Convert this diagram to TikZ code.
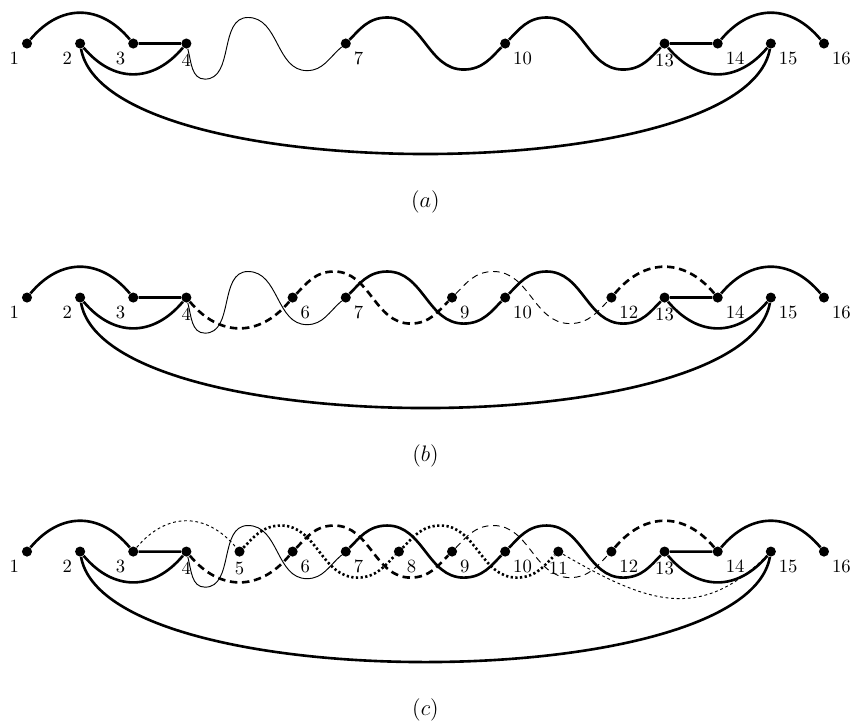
\documentclass[tikz,border=0pt]{standalone}
\usepackage{amsmath}
\usepackage{tikz}

\begin{document}
\begin{tikzpicture}[
  dot/.style={circle, fill, inner sep=0pt, minimum size=5.4pt},
  every label/.style={font=\normalsize, inner sep=1pt},
  label distance=1.5pt,
  strand/.style={line width=1.4pt},
  fine/.style={line width=0.5pt},
  dstrand/.style={strand, dash pattern=on 4pt off 2.5pt},
  dfine/.style={fine, dash pattern=on 3.5pt off 2.5pt},
  pstrand/.style={strand, dash pattern=on 1.2pt off 1.3pt},
  pfine/.style={fine, dash pattern=on 1.5pt off 1.5pt},
  arcup/.style={out=50, in=130, looseness=1.2},
  arcdown/.style={out=-50, in=-130, looseness=1.2},
  wave/.style={to path={(\tikztostart) .. controls +(45:0.36) and +(180:0.36) .. ++(0.78,0.49)
      .. controls +(0:0.68) and +(180:0.68) .. ++(1.44,-0.98)
      .. controls +(0:0.36) and +(-135:0.36) .. (\tikztotarget)}}
  ]
  \useasboundingbox (0.492,0.819) rectangle (16.509,-12.808);

  % (a)
  \node[dot, label=below left:1]  (n1)  at (1,0) {};
  \node[dot, label=below left:2]  (n2)  at (2,0) {};
  \node[dot, label=below left:3]  (n3)  at (3,0) {};
  \node[dot, label=below:4]       (n4)  at (4,0) {};
  \node[dot, label=below right:7] (n7)  at (7,0) {};
  \node[dot, label=below right:10] (n10) at (10,0) {};
  \node[dot, label=below:13]      (n13) at (13,0) {};
  \node[dot, label=below right:14] (n14) at (14,0) {};
  \node[dot, label=below right:15] (n15) at (15,0) {};
  \node[dot, label=below right:16] (n16) at (16,0) {};
  \draw[strand] (n1) to[arcup] (n3) -- (n4);
  \draw[strand] (n2) to[arcdown] (n4);
  \draw[strand] (n2) to[out=-80, in=-100, looseness=0.53] (n15);
  \draw[fine] (n4) to[out=-75,in=180] ++(0.35,-0.67) to[out=0,in=180] ++(0.81,1.16)
    to[out=0,in=180] ++(1.11,-1.0) to[out=0,in=-140] (n7);
  \draw[strand] (n7) to[wave] (n10);
  \draw[strand] (n10) to[wave] (n13);
  \draw[strand] (n13) -- (n14) to[arcup] (n16);
  \draw[strand] (n13) to[arcdown] (n15);
  \node[font=\large] (capa) at (8.5,-2.983) {$(a)$};

  % (b)
  \begin{scope}[yshift=-4.781cm]
  \node[dot, label=below left:1]  (n1)  at (1,0) {};
  \node[dot, label=below left:2]  (n2)  at (2,0) {};
  \node[dot, label=below left:3]  (n3)  at (3,0) {};
  \node[dot, label=below:4]       (n4)  at (4,0) {};
  \node[dot, label=below right:6] (n6)  at (6,0) {};
  \node[dot, label=below right:7] (n7)  at (7,0) {};
  \node[dot, label=below right:9] (n9)  at (9,0) {};
  \node[dot, label=below right:10] (n10) at (10,0) {};
  \node[dot, label=below right:12] (n12) at (12,0) {};
  \node[dot, label=below:13]      (n13) at (13,0) {};
  \node[dot, label=below right:14] (n14) at (14,0) {};
  \node[dot, label=below right:15] (n15) at (15,0) {};
  \node[dot, label=below right:16] (n16) at (16,0) {};
  \draw[strand] (n1) to[arcup] (n3) -- (n4);
  \draw[strand] (n2) to[arcdown] (n4);
  \draw[strand] (n2) to[out=-80, in=-100, looseness=0.53] (n15);
  \draw[fine] (n4) to[out=-75,in=180] ++(0.35,-0.67) to[out=0,in=180] ++(0.81,1.16)
    to[out=0,in=180] ++(1.11,-1.0) to[out=0,in=-140] (n7);
  \draw[strand] (n7) to[wave] (n10);
  \draw[strand] (n10) to[wave] (n13);
  \draw[strand] (n13) -- (n14) to[arcup] (n16);
  \draw[strand] (n13) to[arcdown] (n15);
  \draw[dstrand] (n4) to[arcdown] (n6);
  \draw[dstrand] (n6) to[wave] (n9);
  \draw[dfine] (n9) to[wave] (n12);
  \draw[dstrand] (n12) to[arcup] (n14);
  \node[font=\large] (capb) at (8.5,-2.983) {$(b)$};
  \end{scope}

  % (c)
  \begin{scope}[yshift=-9.562cm]
  \node[dot, label=below left:1]  (n1)  at (1,0) {};
  \node[dot, label=below left:2]  (n2)  at (2,0) {};
  \node[dot, label=below left:3]  (n3)  at (3,0) {};
  \node[dot, label=below:4]       (n4)  at (4,0) {};
  \node[dot, label=below:5]       (n5)  at (5,0) {};
  \node[dot, label=below right:6] (n6)  at (6,0) {};
  \node[dot, label=below right:7] (n7)  at (7,0) {};
  \node[dot, label=below right:8] (n8)  at (8,0) {};
  \node[dot, label=below right:9] (n9)  at (9,0) {};
  \node[dot, label=below right:10] (n10) at (10,0) {};
  \node[dot, label=below:11]      (n11) at (11,0) {};
  \node[dot, label=below right:12] (n12) at (12,0) {};
  \node[dot, label=below:13]      (n13) at (13,0) {};
  \node[dot, label=below right:14] (n14) at (14,0) {};
  \node[dot, label=below right:15] (n15) at (15,0) {};
  \node[dot, label=below right:16] (n16) at (16,0) {};
  \draw[strand] (n1) to[arcup] (n3) -- (n4);
  \draw[strand] (n2) to[arcdown] (n4);
  \draw[strand] (n2) to[out=-80, in=-100, looseness=0.53] (n15);
  \draw[fine] (n4) to[out=-75,in=180] ++(0.35,-0.67) to[out=0,in=180] ++(0.81,1.16)
    to[out=0,in=180] ++(1.11,-1.0) to[out=0,in=-140] (n7);
  \draw[strand] (n7) to[wave] (n10);
  \draw[strand] (n10) to[wave] (n13);
  \draw[strand] (n13) -- (n14) to[arcup] (n16);
  \draw[strand] (n13) to[arcdown] (n15);
  \draw[dstrand] (n4) to[arcdown] (n6);
  \draw[dstrand] (n6) to[wave] (n9);
  \draw[dfine] (n9) to[wave] (n12);
  \draw[dstrand] (n12) to[arcup] (n14);
  \draw[pfine] (n3) to[arcup] (n5);
  \draw[pstrand] (n5) to[wave] (n8);
  \draw[pstrand] (n8) to[wave] (n11);
  \draw[pfine] (n11) to[out=-30, in=-135, looseness=1.2] (n15);
  \node[font=\large] (capc) at (8.5,-2.983) {$(c)$};
  \end{scope}
\end{tikzpicture}
\end{document}
